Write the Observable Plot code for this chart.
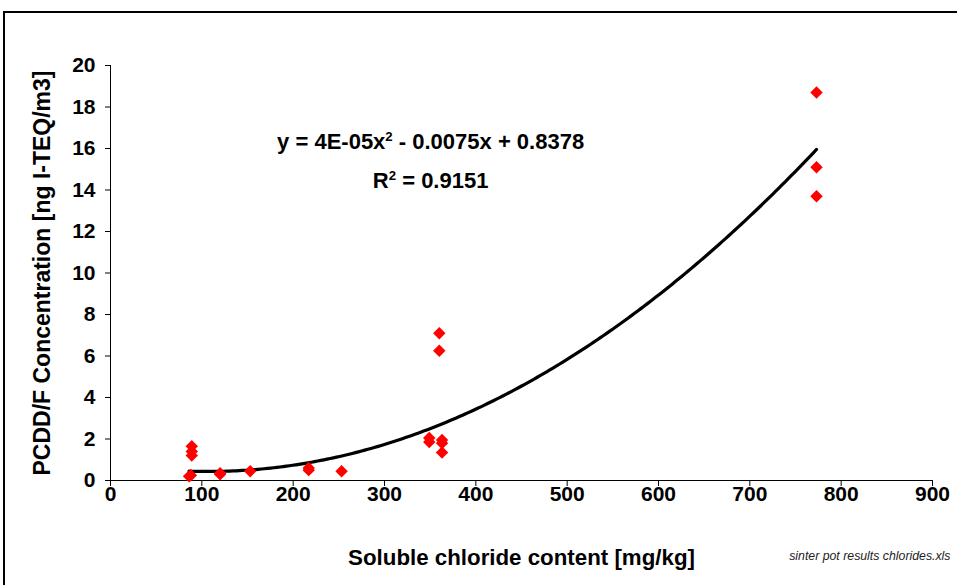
<!DOCTYPE html>
<html>
<head>
<meta charset="utf-8">
<script src="https://cdn.jsdelivr.net/npm/d3@7"></script>
<script src="https://cdn.jsdelivr.net/npm/@observablehq/plot@0.6"></script>
<style>
  html, body { margin: 0; padding: 0; background: #fff; overflow: hidden; }
  #wrap { position: relative; width: 957px; height: 585px; }
  #frame { position: absolute; left: 3px; top: 11px; width: 1200px; height: 1200px;
           border-top: 2px solid #000; border-left: 2px solid #000; pointer-events: none; }
  svg { font-family: "Liberation Sans", Arial, sans-serif; }
</style>
</head>
<body>
<div id="wrap"><div id="frame"></div></div>
<script>
// Soluble chloride content [mg/kg]
const chloride = [86, 88, 89, 89, 89, 120, 120, 153, 217, 217, 253, 349, 349, 360, 360, 363, 363, 363, 773, 773, 773];
// PCDD/F concentration [ng I-TEQ/m3]
const pcdd     = [0.2, 0.25, 1.65, 1.4, 1.2, 0.3, 0.35, 0.45, 0.5, 0.6, 0.45, 2.05, 1.85, 7.1, 6.25, 1.95, 1.8, 1.35, 18.7, 15.1, 13.7];

const xTicks = [0, 100, 200, 300, 400, 500, 600, 700, 800, 900];
const yTicks = [0, 2, 4, 6, 8, 10, 12, 14, 16, 18, 20];

// Polynomial trendline coefficients (label shows a rounded to 4E-05)
const trendA = 3.5e-5;
const trendB = -0.0075;
const trendC = 0.8378;

const xTitle = "Soluble chloride content [mg/kg]";
const yTitle = "PCDD/F Concentration [ng I-TEQ/m3]";
const equationText = "y = 4E-05x² - 0.0075x + 0.8378";
const r2Text = "R² = 0.9151";
const sourceNote = "sinter pot results chlorides.xls";

const points = chloride.map((x, i) => ({x, y: pcdd[i]}));

const xmin = d3.min(chloride), xmax = d3.max(chloride);
const trend = d3.range(0, 201).map(i => {
  const x = xmin + (xmax - xmin) * i / 200;
  return {x, y: trendA * x * x + trendB * x + trendC};
});

const font = "Liberation Sans, Arial, sans-serif";

const chart = Plot.plot({
  width: 957,
  height: 585,
  marginLeft: 110,
  marginRight: 25,
  marginTop: 65,
  marginBottom: 105,
  style: { fontFamily: font, fontWeight: "bold", fontSize: "21px", color: "#000", background: "transparent", overflow: "visible" },
  x: { domain: [0, 900], ticks: xTicks, label: null },
  y: { domain: [0, 20], ticks: yTicks, label: null },
  marks: [
    Plot.ruleY([0], { stroke: "#000", strokeWidth: 1 }),
    Plot.ruleX([0], { stroke: "#000", strokeWidth: 1 }),
    Plot.axisX({ ticks: xTicks, tickSize: 6, tickPadding: 0, fontSize: 21, fontWeight: "bold", stroke: "#000", strokeOpacity: 1 }),
    Plot.axisY({ ticks: yTicks, tickSize: 5, tickPadding: 10, fontSize: 21, fontWeight: "bold", stroke: "#000", strokeOpacity: 1 }),
    Plot.line(trend, { x: "x", y: "y", stroke: "#000", strokeWidth: 3.2, curve: "linear" }),
    Plot.dot(points, { x: "x", y: "y", symbol: "diamond2", r: 5.6, fill: "#ff0000", stroke: "none" }),
    Plot.text([equationText], { x: 350.5, y: 16.3, text: d => d, fontSize: 22, fontWeight: "bold", textAnchor: "middle", className: "eq" }),
    Plot.text([r2Text], { x: 350.5, y: 14.45, text: d => d, fontSize: 22, fontWeight: "bold", textAnchor: "middle", className: "eq" }),
    Plot.text([xTitle], { frameAnchor: "bottom", dy: 84, text: d => d, fontSize: 22.3, fontWeight: "bold" }),
    Plot.text([yTitle], { frameAnchor: "left", dx: -68, rotate: -90, textAnchor: "middle", text: d => d, fontSize: 23, fontWeight: "bold" }),
    Plot.text([sourceNote], { frameAnchor: "bottom-right", dx: 18, dy: 79, textAnchor: "end", text: d => d, fontSize: 12.3, fontStyle: "italic", fontWeight: "normal", fill: "#222" })
  ]
});

// render the "²" as a raised superscript
chart.querySelectorAll("g.eq text").forEach(t => {
  const s = t.textContent;
  const i = s.indexOf("²");
  if (i < 0) return;
  t.textContent = "";
  const ns = "http://www.w3.org/2000/svg";
  const a = document.createElementNS(ns, "tspan"); a.textContent = s.slice(0, i);
  const b = document.createElementNS(ns, "tspan"); b.textContent = "2";
  b.setAttribute("dy", "-0.6em"); b.setAttribute("font-size", "0.6em");
  const c = document.createElementNS(ns, "tspan"); c.textContent = s.slice(i + 1);
  c.setAttribute("dy", "0.36em");
  t.append(a, b, c);
});

document.getElementById("wrap").appendChild(chart);
chart.style.position = "absolute";
chart.style.left = "0px";
chart.style.top = "0px";
</script>
</body>
</html>
